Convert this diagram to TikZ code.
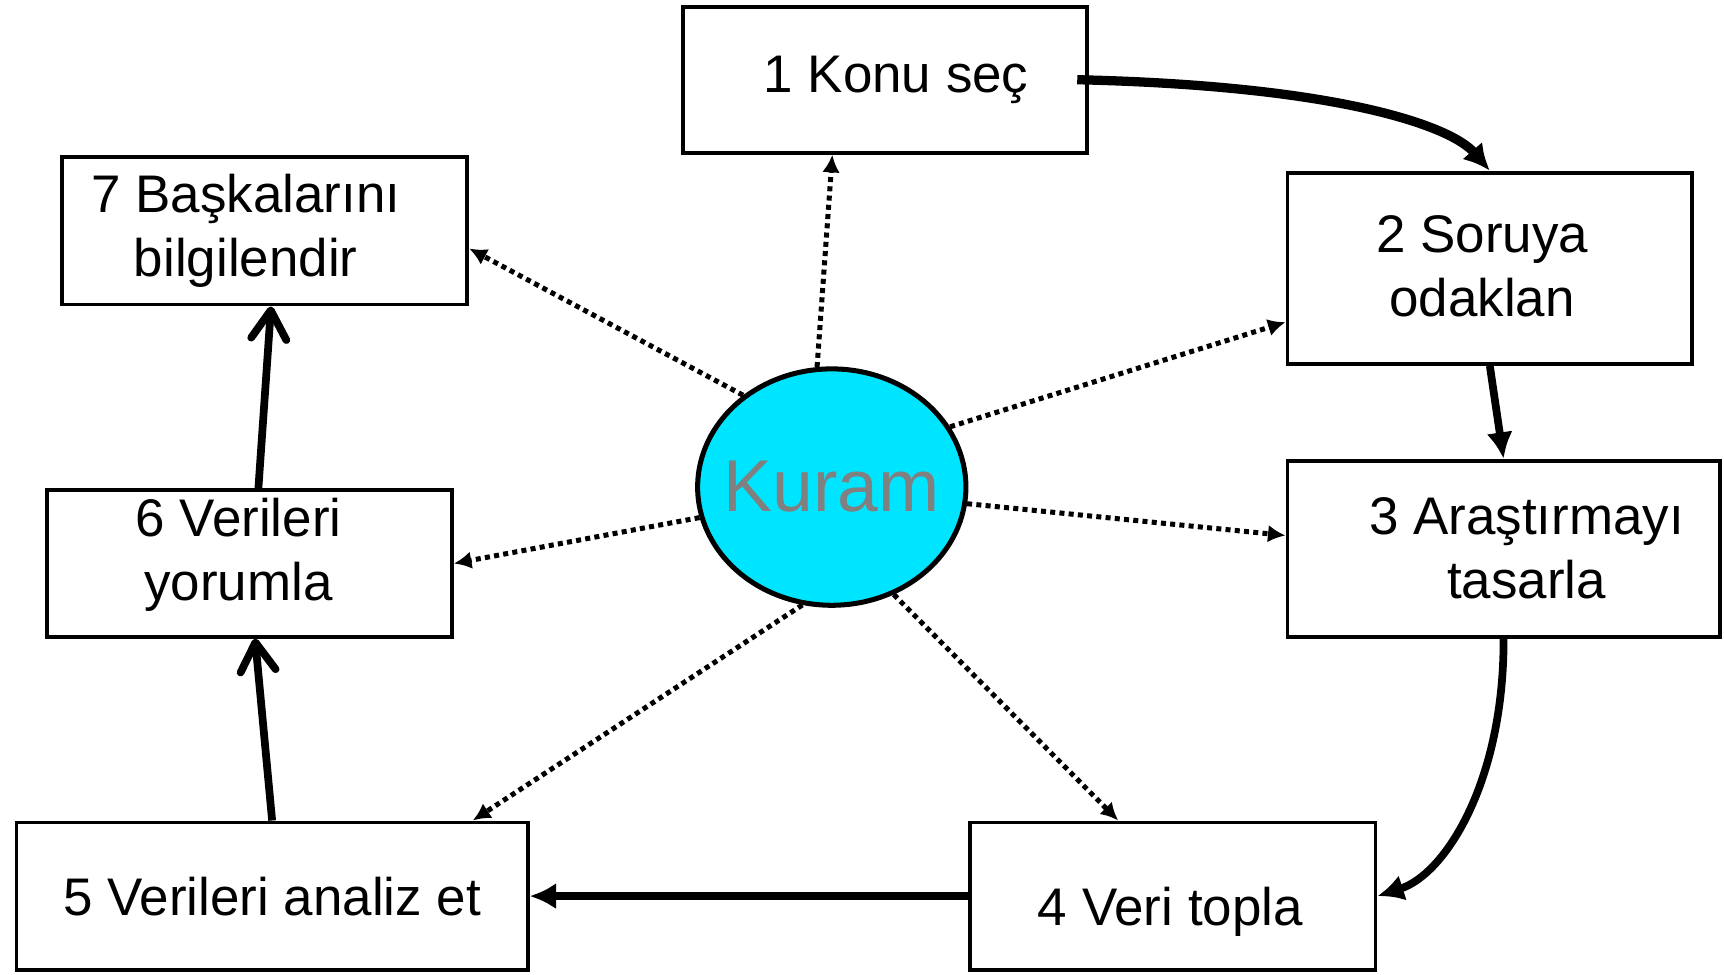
\documentclass[tikz,border=0pt]{standalone}
\usepackage{fontspec}
\setmainfont{Liberation Sans}
\usetikzlibrary{arrows.meta,shapes.geometric}
\definecolor{kuramfill}{HTML}{00E5FF}
\definecolor{kuramtext}{HTML}{808080}
\tikzset{
  box/.style={draw,line width=1pt,inner sep=0pt},
  boxtext/.style={align=center,inner sep=0pt,font=\fontsize{13.7}{16.6}\selectfont},
  flow/.style={line width=2pt,-{Latex[length=2.4mm,width=2.4mm]}},
  back/.style={line width=2pt,-{Straight Barb[length=2.6mm,width=3.2mm,line cap=round,line join=round]}},
  link/.style={line width=1.3pt,dash pattern=on 1.3pt off 1.1pt,
    -{Latex[length=1.6mm,width=1.6mm]}}
}
\begin{document}
\begin{tikzpicture}
      \useasboundingbox (0,0) rectangle (15.68,-8.86);
      \node[box,minimum width=3.68cm,minimum height=1.33cm,
        label={[boxtext,shift={(0.1,0)}]center:1 Konu seç}] (b1) at (8.05,-0.725) {};
      \node[box,minimum width=3.68cm,minimum height=1.74cm,
        label={[boxtext,shift={(-0.07,0.02)}]center:{2 Soruya\\odaklan}}] (b2) at (13.55,-2.44) {};
      \node[box,minimum width=3.93cm,minimum height=1.60cm,
        label={[boxtext,shift={(0.21,0)}]center:{3 Araştırmayı\\tasarla}}] (b3) at (13.675,-4.99) {};
      \node[box,minimum width=3.69cm,minimum height=1.34cm,
        label={[boxtext,shift={(-0.02,-0.14)}]center:4 Veri topla}] (b4) at (10.665,-8.15) {};
      \node[box,minimum width=4.65cm,minimum height=1.34cm,
        label={[boxtext]center:5 Verileri analiz et}] (b5) at (2.475,-8.15) {};
      \node[box,minimum width=3.68cm,minimum height=1.33cm,
        label={[boxtext,shift={(-0.1,0.08)}]center:{6 Verileri\\yorumla}}] (b6) at (2.27,-5.125) {};
      \node[box,minimum width=3.69cm,minimum height=1.34cm,
        label={[boxtext,shift={(-0.17,0)}]center:{7 Başkalarını\\bilgilendir}}] (b7) at (2.405,-2.10) {};
      \node[ellipse,draw,line width=1.3pt,fill=kuramfill,inner sep=0pt,
        minimum width=2.44cm,minimum height=2.15cm,text=kuramtext,
        font=\fontsize{19}{22}\selectfont] (k) at (7.565,-4.43) {\makebox[0pt]{Kuram}};
      \begin{scope}
        \draw[flow,line width=2.4pt] ([xshift=-1.1mm]b1.east) .. controls (12.2,-0.78) and (13.2,-1.15) .. (b2.north);
        \draw[flow] (b2.south) -- (b3.north);
        \draw[flow] (b3.south) .. controls (13.68,-7.1) and (13.15,-7.95) .. (b4.east);
        \draw[flow] (b4.west) -- (b5.east);
        \draw[back] (b5.north) -- ([xshift=0.5mm]b6.south);
        \draw[back] ([xshift=0.8mm]b6.north) -- ([xshift=0.6mm]b7.south);
      \end{scope}
      \begin{scope}[link]
        \draw (k.97) -- ([xshift=-4.8mm]b1.south);
        \draw (k.27) -- ([yshift=-4.9mm]b2.west);
        \draw (k.-7) -- ([yshift=1.2mm]b3.west);
        \draw (k.-60) -- ([xshift=-4.95mm]b4.north);
        \draw (k.256) -- ([xshift=18.25mm]b5.north);
        \draw (k.193) -- (b6.east);
        \draw (k.134) -- ([yshift=-1.6mm]b7.east);
      \end{scope}
    \end{tikzpicture}
\end{document}
